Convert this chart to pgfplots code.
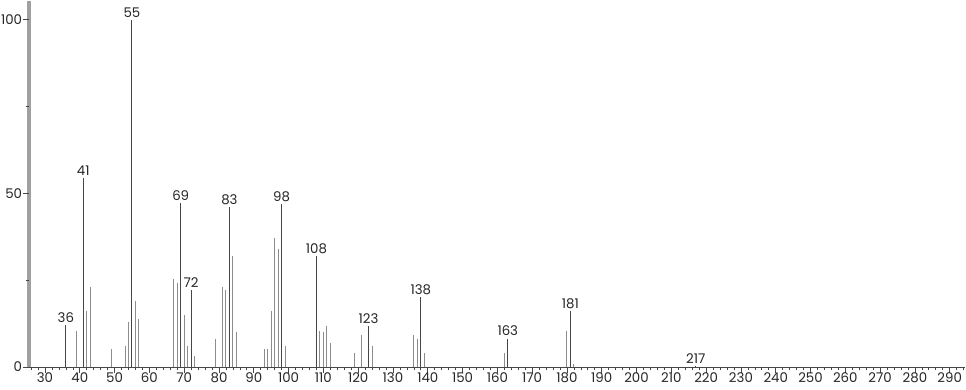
\documentclass[border=0pt]{standalone}
\usepackage{pgfplots}
\pgfplotsset{compat=1.18}
\usepackage{fontspec}
\setmainfont{Poppins}
\definecolor{lightbar}{RGB}{140,140,140}
\definecolor{darkbar}{RGB}{70,70,70}
\definecolor{axgray}{RGB}{160,160,160}
\begin{document}
\begin{tikzpicture}[x=1pt,y=1pt]
\fill[axgray] (-1.2pt,0pt) rectangle (1.2pt,274.5pt);
\begin{axis}[
  at={(0,0)}, anchor=south west,
  scale only axis,
  width=702pt, height=274.5pt,
  xmin=25.4, xmax=294.4,
  ymin=0, ymax=105.4,
  axis x line=bottom, axis y line=left,
  separate axis lines,
  x axis line style={-, draw=darkbar, line width=0.6pt},
  y axis line style={-, draw=axgray, line width=0.6pt},
  xtick={30,40,...,290},
  minor xtick={26,28,...,294},
  ytick={0,50,100},
  minor ytick={25,75},
  tick align=outside,
  major tick length=4.5pt,
  minor tick length=2.5pt,
  tick style={draw=darkbar, line width=0.5pt},
  every tick label/.append style={font=\fontsize{10}{12}\selectfont, text=black!85},
  xticklabel style={inner sep=0.5pt, yshift=1pt},
  yticklabel style={inner sep=0.5pt},
  /pgf/number format/assume math mode=true,
  clip=false,
]
\addplot[ycomb, draw=lightbar, line width=0.75pt, mark=none] coordinates {
(39,10.3) (42,16.1) (43,23.0) (49,5.2) (53,6.1) (54,13.1) (56,19.1) (57,13.9)
(67,25.3) (68,24.3) (70,15.1) (71,6.1) (73,3.2)
(79,8.2) (81,23.0) (82,22.2) (84,32.1) (85,10.2)
(93,5.1) (94,5.1) (95,16.0) (96,37.1) (97,34.0) (99,6.1)
(109,10.3) (110,10.0) (111,11.9) (112,6.8)
(119,3.9) (121,9.2) (124,6.1)
(136,9.1) (137,8.1) (139,4.0)
(162,4.0) (180,10.3) (182,0.9)
};
\addplot[ycomb, draw=darkbar, line width=0.75pt, mark=none,
  point meta=x,
  nodes near coords={\pgfmathprintnumber[int detect]{\pgfplotspointmeta}},
  every node near coord/.append style={font=\fontsize{10}{12}\selectfont, text=black!85, inner sep=1.5pt, anchor=south}
] coordinates {
(36,12.0) (41,54.4) (55,100) (69,47.3) (72,22.3) (83,46.0) (98,46.9)
(108,32.0) (123,11.9) (138,20.1) (163,8.2) (181,16.0) (217,0.4)
};
\end{axis}
\pgfresetboundingbox
\path (-21.75pt,-16.5pt) rectangle (702.75pt,275.25pt);
\end{tikzpicture}
\end{document}
